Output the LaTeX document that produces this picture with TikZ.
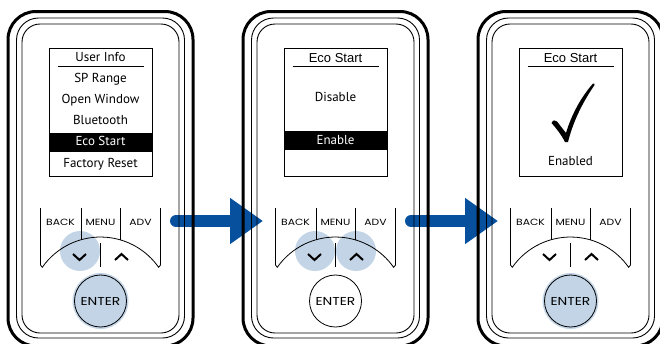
\documentclass[tikz,border=0pt]{standalone}
\usepackage{fontspec}
\usepackage{xcolor}
\setmainfont{PT Sans}
\newfontfamily\headfont{Liberation Sans}
\newfontfamily\keyfont[FakeStretch=1.2]{Poppins}
\usetikzlibrary{arrows.meta}
\definecolor{flowblue}{RGB}{6,80,158}
\definecolor{pressblue}{RGB}{194,212,230}

\begin{document}
\begin{tikzpicture}[x=1pt,y=-1pt,
    item/.style={anchor=base,font=\fontsize{13}{15}\selectfont},
    head/.style={anchor=base,font=\headfont\fontsize{13}{15}\selectfont},
    keylabel/.style={font=\keyfont\fontsize{9}{10}\selectfont},
    enterkey/.style={circle,draw,line width=0.8pt,minimum size=52pt,inner sep=0pt,font=\keyfont\fontsize{11.5}{12}\selectfont},
    pressed/.style={fill=pressblue},
    flow/.style={flowblue,line width=12pt,line cap=round,-{Triangle[length=33pt,width=44pt]}}]

    \useasboundingbox (0,0) rectangle (660,343);

    % arrows between the screens
    \coordinate (go1) at (176,221);
    \coordinate (to1) at (263,221);
    \coordinate (go2) at (411,221);
    \coordinate (to2) at (498,221);
    \draw[flow] (go1) -- (to1);
    \draw[flow] (go2) -- (to2);

    % pressed keys
    \fill[pressblue] (80,251) circle (20);
    \fill[pressblue] (315,251) circle (20);
    \fill[pressblue] (356,251) circle (20);
    \fill[pressblue] (100.5,301) circle (28);
    \fill[pressblue] (570.5,301) circle (28);

    \foreach \c/\n in {100.5/1,335.5/2,570.5/3} {
        \draw[line width=3pt,rounded corners=28pt] (\c-92.5,11.5) rectangle (\c+92.5,346);
        \draw[line width=0.9pt,rounded corners=22pt] (\c-84,18) rectangle (\c+84,338);
        \draw[line width=0.9pt,rounded corners=18pt] (\c-78.5,24) rectangle (\c+78.5,333);
        \draw[line width=1pt] (\c-51.5,48) rectangle (\c+51.5,176);
        \draw[line width=0.9pt] (\c-43,66) -- (\c+43,66);

        \draw[line width=0.8pt] (\c-60,208) -- (\c-60,265) -- (\c-58.2,267.3)
            arc[start angle=215,end angle=325,radius=71] -- (\c+60,265) -- (\c+60,208);
        \draw[line width=0.8pt] (\c-19.5,208) -- (\c-19.5,239.7);
        \draw[line width=0.8pt] (\c+19.5,208) -- (\c+19.5,239.7);
        \draw[line width=0.8pt] (\c,243) -- (\c,267);
        \node[keylabel] (back\n) at (\c-40,222) {BACK};
        \node[keylabel] (menu\n) at (\c,222) {MENU};
        \node[keylabel] (adv\n) at (\c+40,222) {ADV};
        \draw[line width=2pt] (\c-27.5,254) -- (\c-21,260) -- (\c-14.5,254);
        \draw[line width=2pt] (\c+14.5,260) -- (\c+21,254) -- (\c+27.5,260);
    }

    \node[enterkey,pressed] (enter1) at (100.5,301) {ENTER};
    \node[enterkey,fill=white] (enter2) at (335.5,301) {ENTER};
    \node[enterkey,pressed] (enter3) at (570.5,301) {ENTER};

    % menu list
    \node[item] (info) at (100.5,61.7) {User Info};
    \node[item] (range) at (100.5,82.7) {SP Range};
    \node[item] (window) at (100.5,103.3) {Open Window};
    \node[item] (tooth) at (100.5,124) {Bluetooth};
    \fill (49,133) rectangle (152,152);
    \node[item,white] (eco) at (100.5,145.7) {Eco Start};
    \node[item] (reset) at (100.5,167.3) {Factory Reset};

    % choice
    \node[head] (title2) at (335.5,62.3) {Eco Start};
    \node[item] (disable) at (335.5,101.7) {Disable};
    \fill (284,131) rectangle (387,150);
    \node[item,white] (enable) at (335.5,144.3) {Enable};

    % done
    \node[head] (title3) at (570.5,62) {Eco Start};
    \fill (551.5,123) .. controls (553,120) and (555,119.5) .. (557,121.5)
        -- (566,133) .. controls (572,113) and (582,96) .. (593,83.5)
        .. controls (594,83) and (595,84) .. (594.5,85)
        .. controls (585,99) and (574,118) .. (568,142) -- (565,142)
        .. controls (561,134) and (555,127) .. cycle;
    \node[item] (enabled) at (570.5,165) {Enabled};
\end{tikzpicture}
\end{document}
